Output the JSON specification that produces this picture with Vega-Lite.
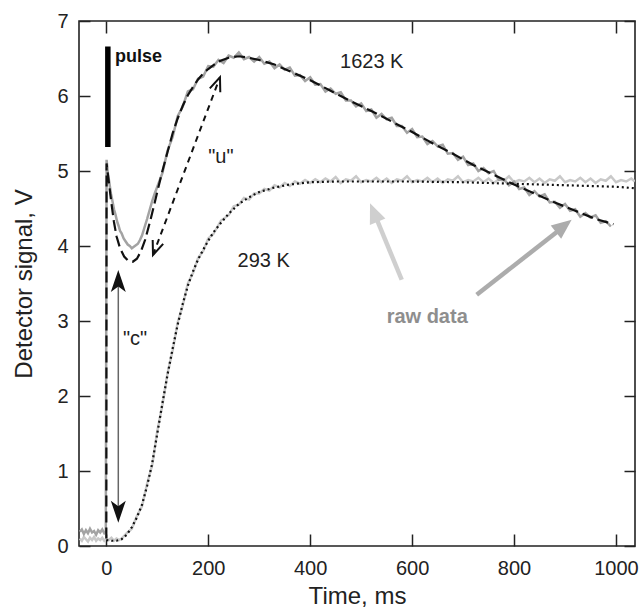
{
  "$schema": "https://vega.github.io/schema/vega-lite/v6.json",
  "width": 556,
  "height": 525,
  "autosize": "none",
  "padding": {"left": 79, "top": 21, "right": 8, "bottom": 64},
  "background": "white",
  "config": {
    "font": "Liberation Sans",
    "view": {"stroke": "#222", "strokeWidth": 1.6},
    "axis": {
      "grid": false,
      "domain": false,
      "tickColor": "#222",
      "tickWidth": 1.5,
      "labelColor": "#222",
      "labelFont": "Liberation Sans",
      "labelFontSize": 20,
      "titleFont": "Liberation Sans",
      "titleFontSize": 24,
      "titleFontWeight": "normal",
      "titleColor": "#222"
    }
  },
  "datasets": {
    "raw1623": [
      {"t": -52, "v": 0.19}, {"t": -48, "v": 0.22}, {"t": -44, "v": 0.16}, {"t": -40, "v": 0.21}, {"t": -36, "v": 0.17}, {"t": -32, "v": 0.23}, {"t": -28, "v": 0.18}, {"t": -24, "v": 0.2}, {"t": -20, "v": 0.15}, {"t": -16, "v": 0.21}, {"t": -12, "v": 0.18}, {"t": -8, "v": 0.22}, {"t": -4, "v": 0.17}, {"t": -1, "v": 0.19},
      {"t": 0.5, "v": 5.15}, {"t": 3, "v": 4.97}, {"t": 6, "v": 4.84}, {"t": 9, "v": 4.7}, {"t": 12, "v": 4.6}, {"t": 15, "v": 4.49}, {"t": 18, "v": 4.42}, {"t": 21, "v": 4.33}, {"t": 24, "v": 4.27}, {"t": 27, "v": 4.2}, {"t": 30, "v": 4.17}, {"t": 34, "v": 4.1}, {"t": 38, "v": 4.06}, {"t": 42, "v": 4.02}, {"t": 46, "v": 4.0}, {"t": 50, "v": 3.97}, {"t": 54, "v": 3.99}, {"t": 58, "v": 4.01}, {"t": 62, "v": 4.03}, {"t": 66, "v": 4.08}, {"t": 70, "v": 4.14}, {"t": 75, "v": 4.25}, {"t": 80, "v": 4.36}, {"t": 85, "v": 4.48}, {"t": 90, "v": 4.6}, {"t": 95, "v": 4.7},
      {"t": 100, "v": 4.79}, {"t": 110, "v": 4.97}, {"t": 120, "v": 5.27}, {"t": 130, "v": 5.45}, {"t": 140, "v": 5.73}, {"t": 150, "v": 5.86}, {"t": 160, "v": 6.06}, {"t": 170, "v": 6.09}, {"t": 180, "v": 6.23}, {"t": 190, "v": 6.26},
      {"t": 200, "v": 6.4}, {"t": 210, "v": 6.39}, {"t": 220, "v": 6.48}, {"t": 230, "v": 6.44}, {"t": 240, "v": 6.54}, {"t": 250, "v": 6.51}, {"t": 260, "v": 6.58}, {"t": 270, "v": 6.49}, {"t": 280, "v": 6.52}, {"t": 290, "v": 6.46},
      {"t": 300, "v": 6.52}, {"t": 310, "v": 6.43}, {"t": 320, "v": 6.46}, {"t": 330, "v": 6.37}, {"t": 340, "v": 6.42}, {"t": 350, "v": 6.35}, {"t": 360, "v": 6.38}, {"t": 370, "v": 6.27}, {"t": 380, "v": 6.28}, {"t": 390, "v": 6.2},
      {"t": 400, "v": 6.25}, {"t": 410, "v": 6.15}, {"t": 420, "v": 6.16}, {"t": 430, "v": 6.06}, {"t": 440, "v": 6.1}, {"t": 450, "v": 6.03}, {"t": 460, "v": 6.05}, {"t": 470, "v": 5.94}, {"t": 480, "v": 5.94}, {"t": 490, "v": 5.86},
      {"t": 500, "v": 5.9}, {"t": 510, "v": 5.8}, {"t": 520, "v": 5.82}, {"t": 530, "v": 5.71}, {"t": 540, "v": 5.76}, {"t": 550, "v": 5.69}, {"t": 560, "v": 5.71}, {"t": 570, "v": 5.6}, {"t": 580, "v": 5.6}, {"t": 590, "v": 5.51},
      {"t": 600, "v": 5.56}, {"t": 610, "v": 5.45}, {"t": 620, "v": 5.46}, {"t": 630, "v": 5.36}, {"t": 640, "v": 5.4}, {"t": 650, "v": 5.33}, {"t": 660, "v": 5.35}, {"t": 670, "v": 5.23}, {"t": 680, "v": 5.24}, {"t": 690, "v": 5.15},
      {"t": 700, "v": 5.19}, {"t": 710, "v": 5.08}, {"t": 720, "v": 5.1}, {"t": 730, "v": 5.0}, {"t": 740, "v": 5.04}, {"t": 750, "v": 4.97}, {"t": 760, "v": 5.0}, {"t": 770, "v": 4.88}, {"t": 780, "v": 4.89}, {"t": 790, "v": 4.81},
      {"t": 800, "v": 4.86}, {"t": 810, "v": 4.76}, {"t": 820, "v": 4.78}, {"t": 830, "v": 4.68}, {"t": 840, "v": 4.73}, {"t": 850, "v": 4.66}, {"t": 860, "v": 4.69}, {"t": 870, "v": 4.58}, {"t": 880, "v": 4.59}, {"t": 890, "v": 4.51},
      {"t": 900, "v": 4.56}, {"t": 910, "v": 4.47}, {"t": 920, "v": 4.49}, {"t": 930, "v": 4.39}, {"t": 940, "v": 4.44}, {"t": 950, "v": 4.38}, {"t": 960, "v": 4.41}, {"t": 970, "v": 4.31}, {"t": 980, "v": 4.33}, {"t": 990, "v": 4.26}
    ],
    "fit1623": [
      {"t": 0, "v": 0.1}, {"t": 0.5, "v": 5.1}, {"t": 5, "v": 4.85}, {"t": 10, "v": 4.57}, {"t": 15, "v": 4.32}, {"t": 20, "v": 4.13}, {"t": 27, "v": 3.97}, {"t": 35, "v": 3.86}, {"t": 42, "v": 3.81}, {"t": 52, "v": 3.79}, {"t": 60, "v": 3.83}, {"t": 68, "v": 3.93}, {"t": 76, "v": 4.08}, {"t": 86, "v": 4.33}, {"t": 95, "v": 4.58}, {"t": 102, "v": 4.78}, {"t": 110, "v": 5.0}, {"t": 120, "v": 5.25}, {"t": 130, "v": 5.5}, {"t": 140, "v": 5.7}, {"t": 150, "v": 5.87}, {"t": 160, "v": 6.01}, {"t": 170, "v": 6.12}, {"t": 180, "v": 6.22}, {"t": 190, "v": 6.3}, {"t": 200, "v": 6.36}, {"t": 220, "v": 6.46}, {"t": 240, "v": 6.51}, {"t": 260, "v": 6.53}, {"t": 280, "v": 6.51}, {"t": 300, "v": 6.48}, {"t": 330, "v": 6.42}, {"t": 360, "v": 6.33}, {"t": 400, "v": 6.21}, {"t": 440, "v": 6.07}, {"t": 480, "v": 5.93}, {"t": 520, "v": 5.8}, {"t": 560, "v": 5.66}, {"t": 600, "v": 5.52}, {"t": 640, "v": 5.37}, {"t": 680, "v": 5.23}, {"t": 720, "v": 5.08}, {"t": 760, "v": 4.95}, {"t": 800, "v": 4.82}, {"t": 840, "v": 4.7}, {"t": 880, "v": 4.58}, {"t": 920, "v": 4.47}, {"t": 960, "v": 4.36}, {"t": 995, "v": 4.29}
    ],
    "raw293": [
      {"t": -52, "v": 0.1}, {"t": -48, "v": 0.07}, {"t": -44, "v": 0.12}, {"t": -40, "v": 0.09}, {"t": -36, "v": 0.06}, {"t": -32, "v": 0.11}, {"t": -28, "v": 0.08}, {"t": -24, "v": 0.12}, {"t": -20, "v": 0.07}, {"t": -16, "v": 0.1}, {"t": -12, "v": 0.08}, {"t": -8, "v": 0.11}, {"t": -4, "v": 0.07}, {"t": 0, "v": 0.1}, {"t": 5, "v": 0.08}, {"t": 10, "v": 0.11}, {"t": 15, "v": 0.07}, {"t": 20, "v": 0.1}, {"t": 25, "v": 0.08}, {"t": 30, "v": 0.1},
      {"t": 40, "v": 0.17}, {"t": 50, "v": 0.23}, {"t": 60, "v": 0.4}, {"t": 70, "v": 0.53}, {"t": 80, "v": 0.83}, {"t": 90, "v": 1.08}, {"t": 100, "v": 1.53}, {"t": 110, "v": 1.88}, {"t": 120, "v": 2.3}, {"t": 130, "v": 2.6}, {"t": 140, "v": 2.98}, {"t": 150, "v": 3.21}, {"t": 160, "v": 3.5}, {"t": 170, "v": 3.64}, {"t": 180, "v": 3.84}, {"t": 190, "v": 3.93}, {"t": 200, "v": 4.1}, {"t": 210, "v": 4.16}, {"t": 225, "v": 4.34}, {"t": 240, "v": 4.41}, {"t": 250, "v": 4.53}, {"t": 260, "v": 4.55}, {"t": 270, "v": 4.64}, {"t": 280, "v": 4.62}, {"t": 290, "v": 4.7}, {"t": 300, "v": 4.7}, {"t": 310, "v": 4.76}, {"t": 320, "v": 4.74}, {"t": 330, "v": 4.81}, {"t": 340, "v": 4.78}, {"t": 350, "v": 4.84}, {"t": 360, "v": 4.8}, {"t": 370, "v": 4.86}, {"t": 380, "v": 4.83}, {"t": 390, "v": 4.88}, {"t": 400, "v": 4.84},
      {"t": 410, "v": 4.89}, {"t": 420, "v": 4.85}, {"t": 430, "v": 4.9}, {"t": 440, "v": 4.86}, {"t": 450, "v": 4.92}, {"t": 460, "v": 4.84}, {"t": 470, "v": 4.89}, {"t": 480, "v": 4.87}, {"t": 490, "v": 4.93}, {"t": 500, "v": 4.85}, {"t": 510, "v": 4.88}, {"t": 520, "v": 4.86}, {"t": 530, "v": 4.91}, {"t": 540, "v": 4.85}, {"t": 550, "v": 4.9}, {"t": 560, "v": 4.84}, {"t": 570, "v": 4.89}, {"t": 580, "v": 4.87}, {"t": 590, "v": 4.93}, {"t": 600, "v": 4.85},
      {"t": 610, "v": 4.88}, {"t": 620, "v": 4.86}, {"t": 630, "v": 4.91}, {"t": 640, "v": 4.85}, {"t": 650, "v": 4.9}, {"t": 660, "v": 4.84}, {"t": 670, "v": 4.89}, {"t": 680, "v": 4.87}, {"t": 690, "v": 4.93}, {"t": 700, "v": 4.85}, {"t": 710, "v": 4.88}, {"t": 720, "v": 4.86}, {"t": 730, "v": 4.91}, {"t": 740, "v": 4.85}, {"t": 750, "v": 4.9}, {"t": 760, "v": 4.84}, {"t": 770, "v": 4.89}, {"t": 780, "v": 4.87}, {"t": 790, "v": 4.93}, {"t": 800, "v": 4.85},
      {"t": 810, "v": 4.88}, {"t": 820, "v": 4.86}, {"t": 830, "v": 4.91}, {"t": 840, "v": 4.85}, {"t": 850, "v": 4.9}, {"t": 860, "v": 4.84}, {"t": 870, "v": 4.89}, {"t": 880, "v": 4.87}, {"t": 890, "v": 4.93}, {"t": 900, "v": 4.85}, {"t": 910, "v": 4.88}, {"t": 920, "v": 4.86}, {"t": 930, "v": 4.91}, {"t": 940, "v": 4.85}, {"t": 950, "v": 4.9}, {"t": 960, "v": 4.84}, {"t": 970, "v": 4.89}, {"t": 980, "v": 4.87}, {"t": 990, "v": 4.93}, {"t": 1000, "v": 4.85}, {"t": 1010, "v": 4.88}, {"t": 1020, "v": 4.86}, {"t": 1030, "v": 4.9}, {"t": 1037, "v": 4.86}
    ],
    "fit293": [
      {"t": 0, "v": 0.08}, {"t": 10, "v": 0.07}, {"t": 20, "v": 0.07}, {"t": 30, "v": 0.09}, {"t": 40, "v": 0.15}, {"t": 50, "v": 0.25}, {"t": 60, "v": 0.38}, {"t": 70, "v": 0.55}, {"t": 80, "v": 0.8}, {"t": 90, "v": 1.1}, {"t": 100, "v": 1.5}, {"t": 110, "v": 1.9}, {"t": 120, "v": 2.28}, {"t": 130, "v": 2.63}, {"t": 140, "v": 2.95}, {"t": 150, "v": 3.23}, {"t": 160, "v": 3.47}, {"t": 170, "v": 3.66}, {"t": 180, "v": 3.82}, {"t": 190, "v": 3.95}, {"t": 200, "v": 4.07}, {"t": 210, "v": 4.18}, {"t": 225, "v": 4.31}, {"t": 240, "v": 4.43}, {"t": 260, "v": 4.56}, {"t": 280, "v": 4.65}, {"t": 300, "v": 4.72}, {"t": 330, "v": 4.78}, {"t": 360, "v": 4.82}, {"t": 400, "v": 4.85}, {"t": 450, "v": 4.86}, {"t": 500, "v": 4.86}, {"t": 600, "v": 4.86}, {"t": 700, "v": 4.85}, {"t": 800, "v": 4.83}, {"t": 900, "v": 4.81}, {"t": 1000, "v": 4.79}, {"t": 1037, "v": 4.77}
    ],
    "pulse": [{"t": 3, "v": 5.32, "v2": 6.66}],
    "uLine": [{"t": 91.6, "v": 3.88}, {"t": 223, "v": 6.25}],
    "cLine": [{"t": 23.5, "v": 3.6, "v2": 0.39}],
    "lightArrow": [{"t": 579.6, "v": 3.55}, {"t": 524.9, "v": 4.45}],
    "darkArrow": [{"t": 726.7, "v": 3.35}, {"t": 897.7, "v": 4.26}]
  },
  "encoding": {
    "x": {"field": "t", "type": "quantitative", "scale": {"domain": [-53.6, 1037.3], "nice": false, "zero": false}, "axis": null},
    "y": {"field": "v", "type": "quantitative", "scale": {"domain": [0, 7], "nice": false, "zero": false}, "axis": null}
  },
  "layer": [
    {
      "data": {"name": "raw293"},
      "mark": {"type": "line", "color": "#c9c9c9", "strokeWidth": 2.5, "clip": true},
      "encoding": {
        "x": {"field": "t", "type": "quantitative", "axis": {"orient": "bottom", "values": [0, 200, 400, 600, 800, 1000], "format": "d", "offset": -12, "tickSize": 12, "labelPadding": 12, "title": "Time, ms", "titlePadding": 6}},
        "y": {"field": "v", "type": "quantitative", "axis": {"orient": "left", "values": [0, 1, 2, 3, 4, 5, 6, 7], "format": "d", "offset": -11, "tickSize": 11, "labelPadding": 11, "title": "Detector signal, V", "titlePadding": 20}}
      }
    },
    {
      "data": {"name": "raw1623"},
      "mark": {"type": "line", "color": "#a3a3a3", "strokeWidth": 2.5, "clip": true},
      "encoding": {
        "x": {"field": "t", "type": "quantitative", "axis": {"orient": "top", "values": [0, 200, 400, 600, 800, 1000], "offset": -12, "tickSize": 12, "labels": false, "title": null}},
        "y": {"field": "v", "type": "quantitative", "axis": {"orient": "right", "values": [0, 1, 2, 3, 4, 5, 6, 7], "offset": -11, "tickSize": 11, "labels": false, "title": null}}
      }
    },
    {
      "data": {"name": "fit293"},
      "mark": {"type": "line", "color": "#111", "strokeWidth": 2.2, "strokeDash": [2, 3], "clip": true},
      "encoding": {}
    },
    {
      "data": {"name": "fit1623"},
      "mark": {"type": "line", "color": "#111", "strokeWidth": 2.2, "strokeDash": [11, 5], "clip": true},
      "encoding": {}
    },
    {
      "data": {"name": "pulse"},
      "mark": {"type": "rule", "color": "#000", "strokeWidth": 5.5},
      "encoding": {"y2": {"field": "v2"}}
    },
    {
      "data": {"name": "uLine"},
      "mark": {"type": "line", "color": "#111", "strokeWidth": 2, "strokeDash": [6, 5]},
      "encoding": {}
    },
    {
      "data": {"values": [{"t": 223, "v": 6.25}]},
      "mark": {"type": "point", "shape": "M-0.4,1L0,0L0.4,1", "size": 784, "filled": false, "stroke": "#111", "strokeWidth": 2, "angle": 20.6, "opacity": 1},
      "encoding": {}
    },
    {
      "data": {"values": [{"t": 91.6, "v": 3.88}]},
      "mark": {"type": "point", "shape": "M-0.4,1L0,0L0.4,1", "size": 784, "filled": false, "stroke": "#111", "strokeWidth": 2, "angle": 200.6, "opacity": 1},
      "encoding": {}
    },
    {
      "data": {"name": "cLine"},
      "mark": {"type": "rule", "color": "#666", "strokeWidth": 1.5},
      "encoding": {"y2": {"field": "v2"}}
    },
    {
      "data": {"values": [{"t": 23.5, "v": 3.68}]},
      "mark": {"type": "point", "shape": "M0,0L0.34,1L0,0.75L-0.34,1Z", "size": 1936, "filled": true, "color": "#111", "angle": 0, "opacity": 1},
      "encoding": {}
    },
    {
      "data": {"values": [{"t": 23.5, "v": 0.31}]},
      "mark": {"type": "point", "shape": "M0,0L0.34,1L0,0.75L-0.34,1Z", "size": 1936, "filled": true, "color": "#111", "angle": 180, "opacity": 1},
      "encoding": {}
    },
    {
      "data": {"name": "lightArrow"},
      "mark": {"type": "line", "color": "#cfcfcf", "strokeWidth": 4.5},
      "encoding": {}
    },
    {
      "data": {"values": [{"t": 517.4, "v": 4.57}]},
      "mark": {"type": "point", "shape": "M0,0L0.42,1L-0.42,1Z", "size": 1600, "filled": true, "color": "#cfcfcf", "angle": 337.6, "opacity": 1},
      "encoding": {}
    },
    {
      "data": {"name": "darkArrow"},
      "mark": {"type": "line", "color": "#acacac", "strokeWidth": 4.5},
      "encoding": {}
    },
    {
      "data": {"values": [{"t": 913, "v": 4.35}]},
      "mark": {"type": "point", "shape": "M0,0L0.42,1L-0.42,1Z", "size": 1600, "filled": true, "color": "#acacac", "angle": 51.7, "opacity": 1},
      "encoding": {}
    },
    {
      "data": {"values": [
        {"t": 458.6, "v": 6.37, "label": "1623 K"},
        {"t": 257.6, "v": 3.72, "label": "293 K"},
        {"t": 200, "v": 5.11, "label": "\"u\""},
        {"t": 32.6, "v": 2.68, "label": "\"c\""}
      ]},
      "mark": {"type": "text", "align": "left", "baseline": "alphabetic", "fontSize": 20, "color": "#222", "font": "Liberation Sans"},
      "encoding": {"text": {"field": "label"}}
    },
    {
      "data": {"values": [{"t": 17, "v": 6.46, "label": "pulse"}]},
      "mark": {"type": "text", "align": "left", "baseline": "alphabetic", "fontSize": 18, "fontWeight": "bold", "color": "#111", "font": "Liberation Sans"},
      "encoding": {"text": {"field": "label"}}
    },
    {
      "data": {"values": [{"t": 550, "v": 2.98, "label": "raw data"}]},
      "mark": {"type": "text", "align": "left", "baseline": "alphabetic", "fontSize": 20, "fontWeight": "bold", "color": "#8e8e8e", "font": "Liberation Sans"},
      "encoding": {"text": {"field": "label"}}
    }
  ],
  "resolve": {"axis": {"x": "independent", "y": "independent"}}
}
